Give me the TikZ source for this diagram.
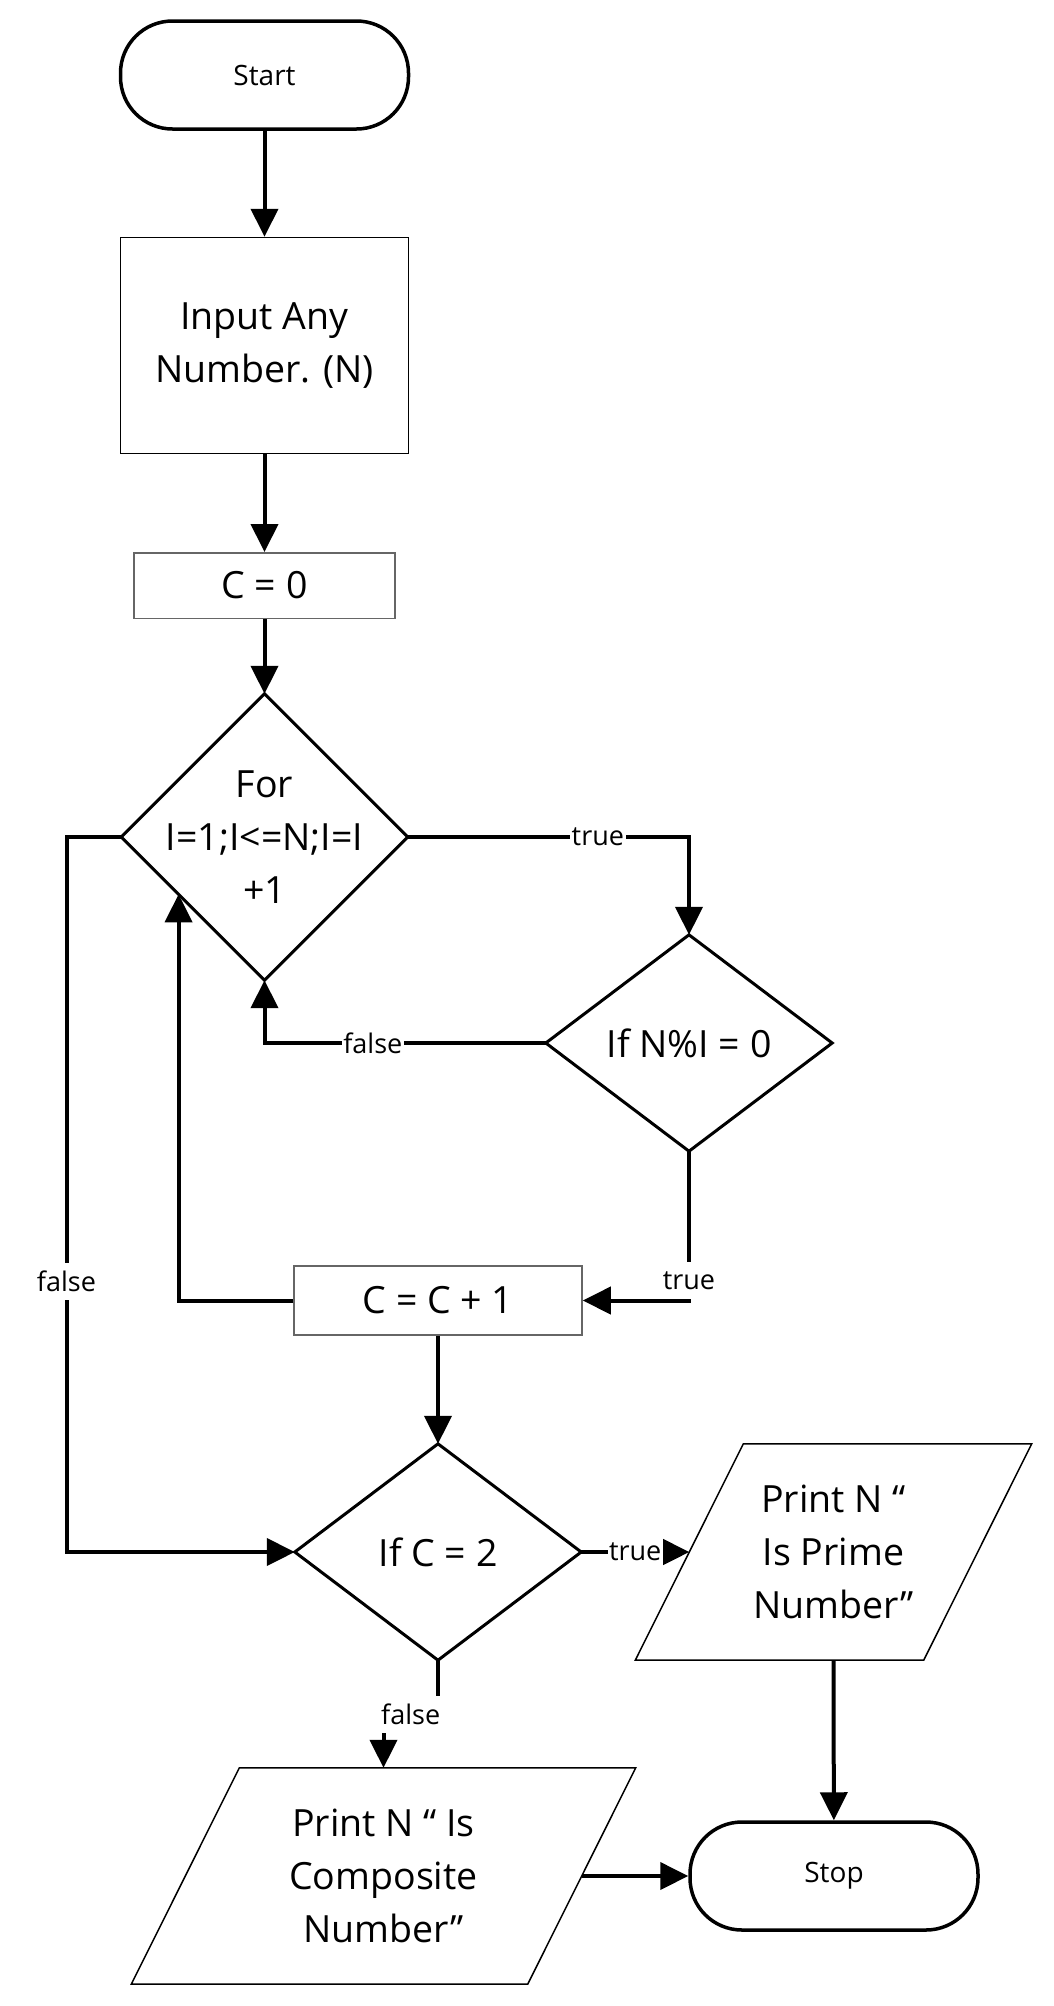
\documentclass[tikz,border=0pt]{standalone}
\usepackage{fontspec}
\setmainfont{Open Sans}
\usetikzlibrary{arrows.meta,calc}
\definecolor{boxgray}{HTML}{666666}
\begin{document}
\begin{tikzpicture}[x=1pt,y=-1pt,
  every node/.style={inner sep=0pt, text=black},
  bigtxt/.style={font=\fontsize{37.5}{53}\selectfont, align=center},
  term/.style={draw, line width=3.5pt, rounded corners=52pt, minimum width=288pt,
               minimum height=108pt, font=\fontsize{28}{34}\selectfont},
  proc/.style={draw, line width=1.5pt, bigtxt},
  graybox/.style={draw=boxgray, line width=1.5pt, bigtxt},
  decbox/.style={bigtxt, minimum width=286pt, minimum height=#1},
  iobox/.style={bigtxt, minimum height=216pt, minimum width=#1},
  arr/.style={line width=4pt, -{Triangle[length=28pt,width=27pt]}},
  lbl/.style={fill=white, font=\fontsize{27}{32}\selectfont, inner xsep=1.5pt, minimum height=37pt},
  dedge/.style={line width=3pt, line join=miter},
  pedge/.style={line width=1.5pt}
]
\useasboundingbox (0,0) rectangle (1054,2006);

% shapes
\node[term] (start) at (264.5,75) {Start};
\node[proc, minimum width=288pt, minimum height=216pt] (input) at (264.5,345.5) {Input Any\\Number. (N)};
\node[graybox, minimum width=261pt, minimum height=65.5pt] (c0) at (264.5,585.5) {C = 0};
\node[decbox=286pt] (fordec) at (264.5,837) {For\\I=1;I<=N;I=I\\+1};
\node[decbox=216pt] (ifn) at (689,1043) {If N\%I = 0};
\node[graybox, minimum width=288pt, minimum height=69pt] (cpp) at (438,1300.5) {C = C + 1};
\node[decbox=216pt] (ifc) at (438,1552) {If C = 2};
\node[iobox=288pt] (prime) at (833.5,1552) {Print N “\\Is Prime\\Number”};
\node[iobox=396pt] (comp) at (383.5,1876) {Print N “ Is\\Composite\\Number”};
\node[term] (stop) at (834,1876) {Stop};

% decision outlines
\foreach \d in {fordec,ifn,ifc}
  \draw[dedge] (\d.north) -- (\d.east) -- (\d.south) -- (\d.west) -- cycle;

% input/output outlines
\foreach \p in {prime,comp}
  \draw[pedge] ([xshift=54pt]\p.north west) -- ([xshift=54pt]\p.north east)
    -- ([xshift=-54pt]\p.south east) -- ([xshift=-54pt]\p.south west) -- cycle;

% helper coordinates
\coordinate (loopx) at (66.5,0);
\coordinate (jog) at (0,1714);
\coordinate (fl) at ($(fordec.west)!0.4!(fordec.south)$);

% connectors
\draw[arr] (start) -- (input);
\draw[arr] (input) -- (c0);
\draw[arr] (c0) -- (fordec.north);
\draw[arr] (fordec.east) -- node[lbl,pos=0.676]{true} (fordec.east -| ifn.north) -- (ifn.north);
\draw[arr] (ifn.west) -- node[lbl,pos=0.615]{false} (ifn.west -| fordec.south) -- (fordec.south);
\draw[arr] (ifn.south) -- node[lbl,pos=0.869]{true} (ifn.south |- cpp.east) -- (cpp.east);
\draw[arr] (cpp.west) -| (fl);
\draw[arr] (fordec.west) -- (fordec.west -| loopx) -- node[lbl,pos=0.622]{false} (ifc.west -| loopx) -- (ifc.west);
\draw[arr] (cpp) -- (ifc.north);
\draw[arr] (ifc.east) -- node[lbl,pos=0.5]{true} (prime.west);
\draw[arr] (ifc.south) -- (ifc.south |- jog) -- node[lbl]{false} (comp.north |- jog) -- (comp.north);
\draw[arr] (prime.south) -- (stop);
\draw[arr] (comp.east) -- (stop);
\end{tikzpicture}
\end{document}
